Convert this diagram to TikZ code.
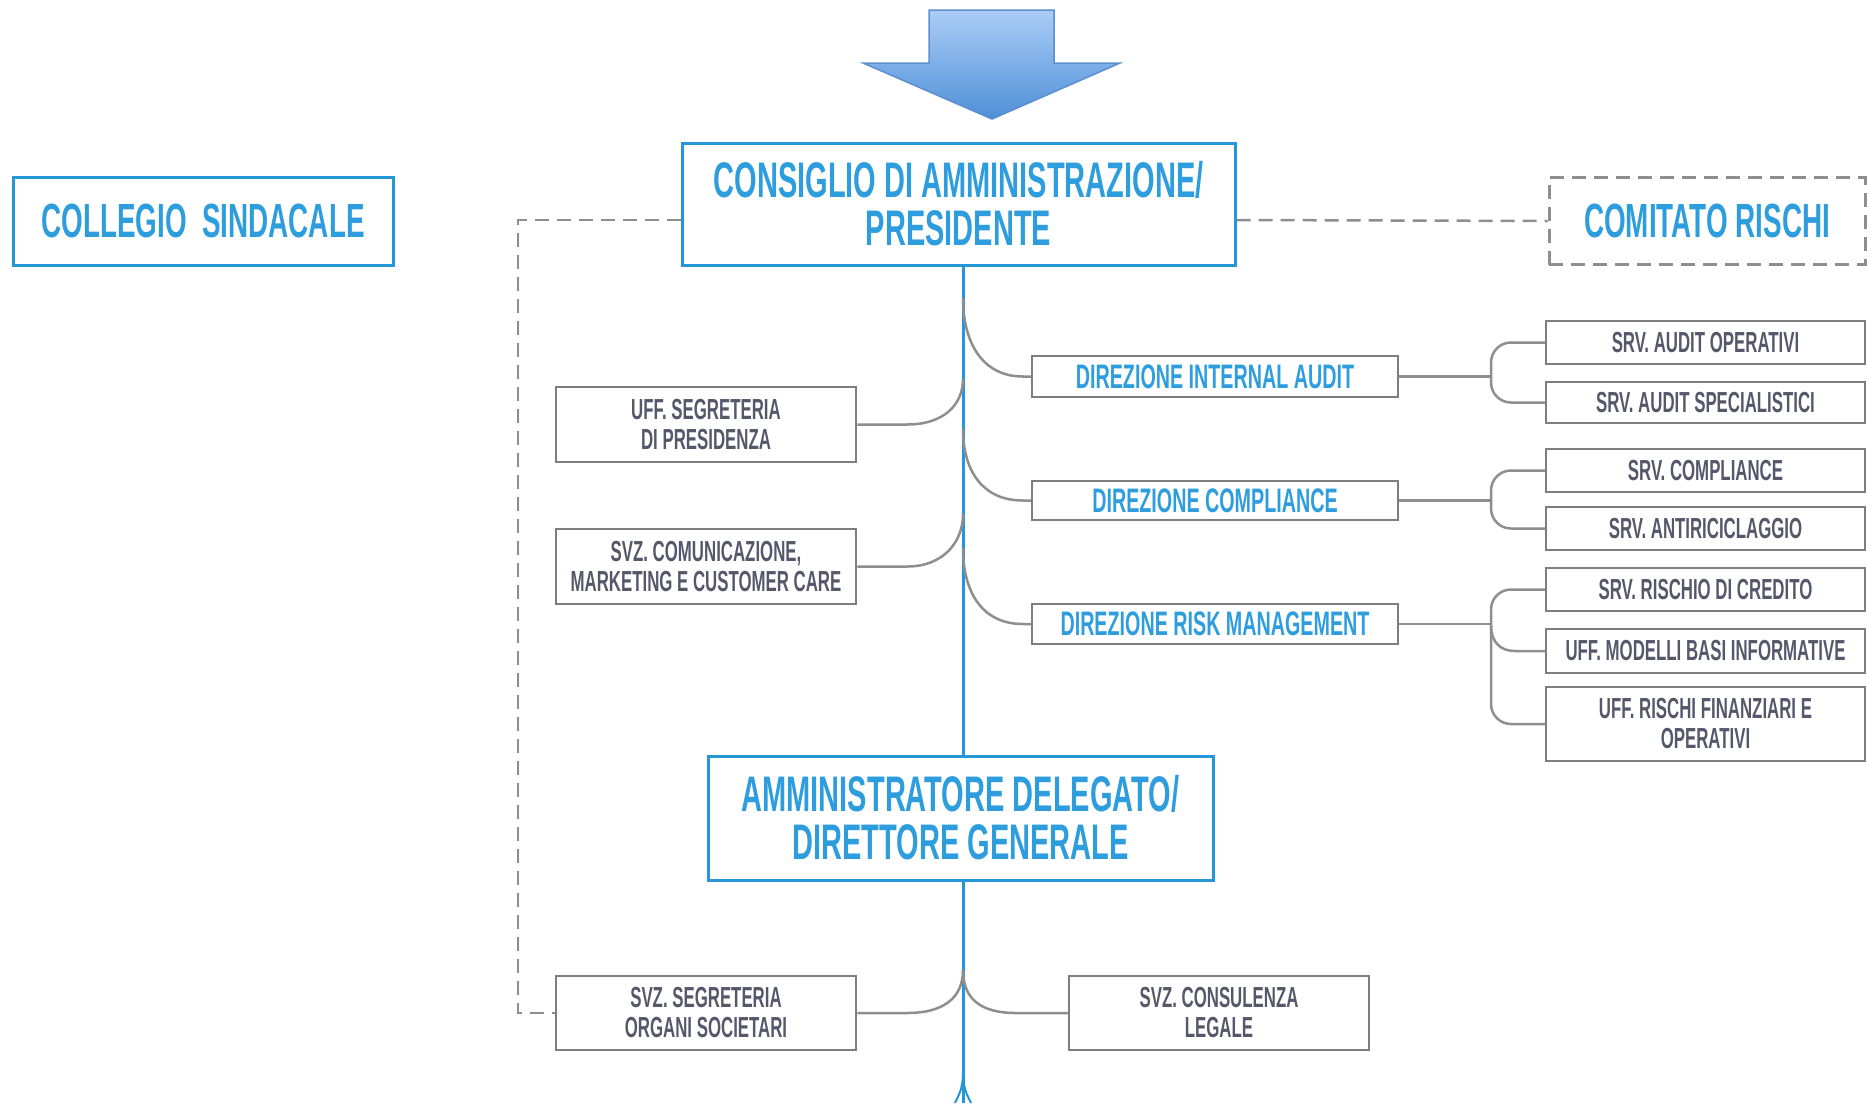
\documentclass[tikz,border=0pt]{standalone}
\usepackage{fontspec}
\setmainfont{Liberation Sans}
\newfontfamily\cond[FakeStretch=0.58]{Liberation Sans}
\usetikzlibrary{calc}
\definecolor{bblue}{HTML}{2597D9}
\definecolor{tblue}{HTML}{2E9DDD}
\definecolor{gborder}{HTML}{7E7E82}
\definecolor{gline}{HTML}{8E8E90}
\definecolor{gtext}{HTML}{55586A}
\definecolor{arTop}{HTML}{AACDF6}
\definecolor{arBot}{HTML}{4F8FD8}
\definecolor{arEdge}{HTML}{5C8FCF}
\tikzset{
  bigbox/.style={draw=bblue, line width=3pt, text=tblue, align=center, inner sep=0pt,
    font=\cond\bfseries\fontsize{50}{48}\selectfont},
  midbox/.style={draw=bblue, line width=3pt, text=tblue, align=center, inner sep=0pt,
    font=\cond\bfseries\fontsize{48}{48}\selectfont},
  dashbox/.style={draw=gline, line width=3pt, dash pattern=on 14pt off 8pt, text=tblue, align=center, inner sep=0pt,
    font=\cond\bfseries\fontsize{48}{48}\selectfont},
  dirbox/.style={draw=gborder, line width=2.5pt, text=tblue, align=center, inner sep=0pt,
    minimum width=366pt, font=\cond\bfseries\fontsize{34}{34}\selectfont},
  smallbox/.style={draw=gborder, line width=2.5pt, text=gtext, align=center, inner sep=0pt,
    font=\cond\bfseries\fontsize{29}{30}\selectfont},
  subbox/.style={smallbox, minimum width=319pt},
  spine/.style={draw=bblue, line width=3pt},
  conn/.style={draw=gline, line width=2.5pt},
  dashline/.style={draw=gline, line width=2.5pt, dash pattern=on 14pt off 8pt},
  bracket/.style={conn, rounded corners=20pt},
}
\begin{document}
\begin{tikzpicture}[x=1pt,y=-1pt]
\useasboundingbox (0,0) rectangle (1867,1103);

% top arrow
\shade[top color=arTop, bottom color=arBot, draw=arEdge, line width=1.5pt]
  (929,10) -- (1054,10) -- (1054,63) -- (1120,63) -- (992,119) -- (863,63) -- (929,63) -- cycle;

% main nodes
\node[midbox, minimum width=380pt, minimum height=88pt] (coll) at (203,221) {COLLEGIO\ \ SINDACALE};
\node[bigbox, minimum width=553pt, minimum height=122pt] (cda) at (958.5,204) {CONSIGLIO DI AMMINISTRAZIONE/\\PRESIDENTE};
\node[dashbox, minimum width=316pt, minimum height=87pt] (crisk) at (1707,221) {COMITATO RISCHI};
\node[bigbox, minimum width=505pt, minimum height=124pt] (ad) at (960.5,818) {AMMINISTRATORE DELEGATO/\\DIRETTORE GENERALE};

% staff boxes left
\node[smallbox, minimum width=300pt, minimum height=75pt] (sp) at (706,424.5) {UFF. SEGRETERIA\\DI PRESIDENZA};
\node[smallbox, minimum width=300pt, minimum height=75pt] (com) at (706,566.5) {SVZ. COMUNICAZIONE,\\MARKETING E CUSTOMER CARE};
\node[smallbox, minimum width=300pt, minimum height=74pt] (sos) at (706,1013) {SVZ. SEGRETERIA\\ORGANI SOCIETARI};
\node[smallbox, minimum width=300pt, minimum height=74pt] (leg) at (1219,1013) {SVZ. CONSULENZA\\LEGALE};

% direzioni
\node[dirbox, minimum height=41pt] (ia) at (1215,376.5) {DIREZIONE INTERNAL AUDIT};
\node[dirbox, minimum height=39pt] (co) at (1215,500.5) {DIREZIONE COMPLIANCE};
\node[dirbox, minimum height=40pt] (rm) at (1215,624) {DIREZIONE RISK MANAGEMENT};

% sub boxes
\node[subbox, minimum height=43pt] (ao) at (1705.5,342.5) {SRV. AUDIT OPERATIVI};
\node[subbox, minimum height=41pt] (as) at (1705.5,402.5) {SRV. AUDIT SPECIALISTICI};
\node[subbox, minimum height=43pt] (sc) at (1705.5,470.5) {SRV. COMPLIANCE};
\node[subbox, minimum height=43pt] (ar) at (1705.5,528.5) {SRV. ANTIRICICLAGGIO};
\node[subbox, minimum height=43pt] (rc) at (1705.5,589.5) {SRV. RISCHIO DI CREDITO};
\node[subbox, minimum height=44pt] (mb) at (1705.5,651) {UFF. MODELLI BASI INFORMATIVE};
\node[subbox, minimum height=74pt] (rf) at (1705.5,724) {UFF. RISCHI FINANZIARI E\\OPERATIVI};

% spine coordinates
\coordinate (xl) at (963,0);
\coordinate (jia) at (963,298);
\coordinate (jsp) at (963,379);
\coordinate (jco) at (963,429);
\coordinate (jcom) at (963,514);
\coordinate (jrm) at (963,548);
\coordinate (jbot) at (963,970);
\coordinate (bend) at (963,1103);
\coordinate (bx) at (1491,0);

% spine
\draw[spine] (cda.south -| xl) -- (ad.north -| xl);
\draw[spine] (ad.south -| xl) -- (bend);
\draw[conn, draw=bblue, line width=2pt] (963,1072) .. controls (963,1090) and (958,1096) .. (955,1103);
\draw[conn, draw=bblue, line width=2pt] (963,1072) .. controls (963,1090) and (968,1096) .. (971,1103);

% left staff connectors
\draw[conn] (sp.east) -- ++(50,0) .. controls +(36,0) and +(0,26) .. (jsp);
\draw[conn] (com.east) -- ++(50,0) .. controls +(36,0) and +(0,28) .. (jcom);
\draw[conn] (sos.east) -- ++(50,0) .. controls +(36,0) and +(0,28) .. (jbot);
\draw[conn] (leg.west) -- ++(-52,0) .. controls +(-36,0) and +(0,28) .. (jbot);

% direzioni connectors
\draw[conn] (jia) .. controls +(0,45) and +(-40,0) .. ($(ia.west)+(-8,0)$) -- (ia.west);
\draw[conn] (jco) .. controls +(0,42) and +(-40,0) .. ($(co.west)+(-8,0)$) -- (co.west);
\draw[conn] (jrm) .. controls +(0,45) and +(-40,0) .. ($(rm.west)+(-8,0)$) -- (rm.west);

% brackets
\draw[conn] (ia.east) -- (ia.east -| bx);
\draw[bracket] (ao.west) -| (as.west -| bx) -- (as.west);
\draw[conn] (co.east) -- (co.east -| bx);
\draw[bracket] (sc.west) -| (ar.west -| bx) -- (ar.west);
\draw[conn] (rm.east) -- (rm.east -| bx);
\draw[bracket] (rc.west) -| (rf.west -| bx) -- (rf.west);
\draw[conn] ($(mb.west -| bx)+(0,-26)$) .. controls +(0,18) and +(-14,0) .. ($(mb.west -| bx)+(24,0)$) -- (mb.west);

% dashed links
\draw[dashline] ($(cda.west)+(0,16)$) -| ($(sos.west)+(-37,0)$) -- (sos.west);
\draw[dashline] ($(cda.east)+(0,16)$) -- (crisk.west);
\end{tikzpicture}
\end{document}
